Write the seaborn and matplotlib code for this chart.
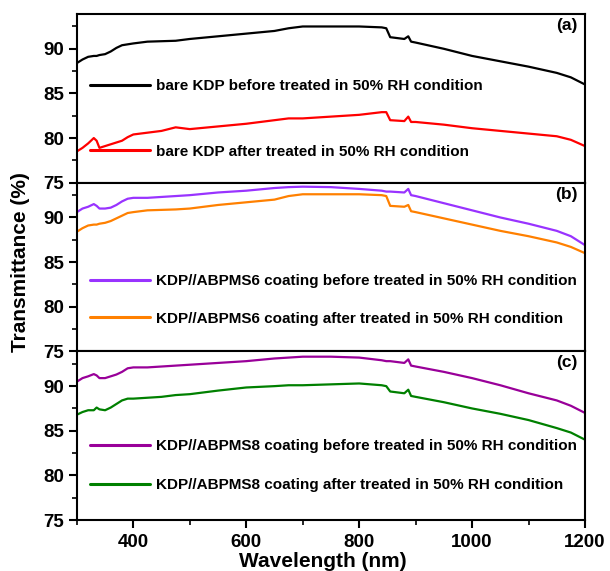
import numpy as np
import pandas as pd
import matplotlib
matplotlib.use("Agg")
import matplotlib.pyplot as plt
from matplotlib.ticker import MultipleLocator
import seaborn as sns

# Wavelength grid (nm) shared by all spectra
wavelength = [300, 310, 320, 330, 335, 340, 350, 360, 370, 380, 390, 400, 425, 450,
              475, 500, 550, 600, 650, 675, 700, 750, 800, 840, 848, 855, 880, 887,
              892, 900, 950, 1000, 1050, 1100, 1150, 1175, 1200]

# (a) bare KDP
bare_before = [88.4, 88.8, 89.1, 89.2, 89.2, 89.3, 89.4, 89.7, 90.1, 90.4, 90.5, 90.6, 90.8, 90.85,
               90.9, 91.1, 91.4, 91.7, 92.0, 92.3, 92.5, 92.5, 92.5, 92.4, 92.3, 91.3, 91.1, 91.4,
               90.8, 90.7, 90.0, 89.2, 88.6, 88.0, 87.3, 86.8, 86.0]
bare_after = [78.5, 78.9, 79.4, 80.0, 79.7, 78.9, 79.1, 79.3, 79.5, 79.7, 80.1, 80.4, 80.6, 80.8,
              81.2, 81.0, 81.3, 81.6, 82.0, 82.2, 82.2, 82.4, 82.6, 82.9, 82.9, 82.0, 81.9, 82.4,
              81.8, 81.8, 81.5, 81.1, 80.8, 80.5, 80.2, 79.8, 79.1]

# (b) KDP//ABPMS6 coating
ms6_before = [90.6, 91.0, 91.2, 91.5, 91.3, 91.0, 91.0, 91.1, 91.4, 91.8, 92.1, 92.2, 92.2, 92.3,
              92.4, 92.5, 92.8, 93.0, 93.3, 93.4, 93.45, 93.4, 93.2, 93.0, 92.9, 92.9, 92.8, 93.2,
              92.5, 92.4, 91.6, 90.8, 90.0, 89.3, 88.5, 87.9, 86.9]
ms6_after = [88.4, 88.8, 89.1, 89.2, 89.2, 89.3, 89.4, 89.6, 89.9, 90.2, 90.5, 90.6, 90.8, 90.85,
             90.9, 91.0, 91.4, 91.7, 92.0, 92.4, 92.6, 92.6, 92.6, 92.5, 92.4, 91.3, 91.2, 91.4,
             90.7, 90.6, 89.9, 89.2, 88.5, 87.9, 87.2, 86.7, 86.0]

# (c) KDP//ABPMS8 coating
ms8_before = [90.5, 90.9, 91.1, 91.35, 91.2, 90.9, 90.9, 91.1, 91.3, 91.6, 92.0, 92.1, 92.1, 92.2,
              92.3, 92.4, 92.6, 92.8, 93.1, 93.2, 93.3, 93.3, 93.2, 92.9, 92.8, 92.8, 92.6, 93.0,
              92.3, 92.2, 91.6, 90.9, 90.1, 89.2, 88.4, 87.8, 87.0]
ms8_after = [86.8, 87.1, 87.3, 87.3, 87.6, 87.4, 87.3, 87.6, 88.0, 88.4, 88.6, 88.6, 88.7, 88.8,
             89.0, 89.1, 89.5, 89.85, 90.0, 90.1, 90.1, 90.2, 90.3, 90.1, 90.0, 89.4, 89.2, 89.6,
             88.9, 88.8, 88.2, 87.5, 86.9, 86.2, 85.3, 84.8, 84.0]

labels = [
    ["bare KDP before treated in 50% RH condition",
     "bare KDP after treated in 50% RH condition"],
    ["KDP//ABPMS6 coating before treated in 50% RH condition",
     "KDP//ABPMS6 coating after treated in 50% RH condition"],
    ["KDP//ABPMS8 coating before treated in 50% RH condition",
     "KDP//ABPMS8 coating after treated in 50% RH condition"],
]
series = [(bare_before, bare_after), (ms6_before, ms6_after), (ms8_before, ms8_after)]
colors = [("#000000", "#FF0000"), ("#9933FF", "#FF8000"), ("#990099", "#008000")]
panel_tags = ["(a)", "(b)", "(c)"]

y_ticks = [75, 80, 85, 90]
x_ticks = [400, 600, 800, 1000, 1200]

sns.set_theme(style="ticks")
plt.rcParams["font.family"] = ["Liberation Sans", "DejaVu Sans"]
plt.rcParams["font.weight"] = "bold"
plt.rcParams["text.color"] = "black"
plt.rcParams["axes.labelcolor"] = "black"
plt.rcParams["xtick.color"] = "black"
plt.rcParams["ytick.color"] = "black"

fig = plt.figure(figsize=(6.10, 5.71), dpi=100)
gs = fig.add_gridspec(3, 1, left=0.126, right=0.959, top=0.9755, bottom=0.0893, hspace=0)
axes = [fig.add_subplot(gs[i]) for i in range(3)]
for ax in axes[1:]:
    ax.sharex(axes[0])

legend_layout = [  # (top of legend in axes fraction, label spacing)
    (0.6146, 3.38),
    (0.4587, 1.545),
    (0.4805, 1.656),
]

for i, ax in enumerate(axes):
    before, after = series[i]
    df = pd.DataFrame({
        "Wavelength": wavelength * 2,
        "T": before + after,
        "Sample": [labels[i][0]] * len(wavelength) + [labels[i][1]] * len(wavelength),
    })
    sns.lineplot(data=df, x="Wavelength", y="T", hue="Sample",
                 palette=dict(zip(labels[i], colors[i])), linewidth=1.6,
                 ax=ax, legend=True)
    handles, labs = ax.get_legend_handles_labels()
    top, spacing = legend_layout[i]
    leg = ax.legend(handles, labs, loc="upper left", bbox_to_anchor=(0.0256, top),
                    frameon=False, borderpad=0, borderaxespad=0,
                    handlelength=3.93, handletextpad=0.4, labelspacing=spacing,
                    prop={"size": 11, "weight": "bold"})
    for line in leg.get_lines():
        line.set_linewidth(2.2)
    for t in leg.get_texts():
        t.set_color("black")

    ax.set_xlim(300, 1200)
    ax.set_ylim(75, 93.9)
    ax.set_yticks(y_ticks)
    ax.yaxis.set_minor_locator(MultipleLocator(2.5))
    ax.set_xticks(x_ticks)
    ax.xaxis.set_minor_locator(MultipleLocator(100))
    ax.set_xlabel("")
    ax.set_ylabel("")
    for sp in ax.spines.values():
        sp.set_visible(True)
        sp.set_linewidth(1.5)
        sp.set_color("black")
    ax.tick_params(axis="y", which="major", direction="out", length=6, width=1.5,
                   labelsize=13.5, pad=3, colors="black", right=False)
    ax.tick_params(axis="y", which="minor", direction="out", length=3.5, width=1.2,
                   right=False)
    if i < 2:
        ax.tick_params(axis="x", which="both", bottom=False, labelbottom=False)
    else:
        ax.tick_params(axis="x", which="major", direction="out", length=6, width=1.5,
                       labelsize=13.5, pad=4, colors="black")
        ax.tick_params(axis="x", which="minor", direction="out", length=3.5, width=1.2)
    for t in ax.get_xticklabels() + ax.get_yticklabels():
        t.set_fontweight("bold")
    ax.text(0.986, 0.976, panel_tags[i], transform=ax.transAxes, ha="right", va="top",
            fontsize=12.5, fontweight="bold")

fig.text(0.033, 1 - 262 / 571, "Transmittance (%)", rotation=90, ha="center", va="center",
         fontsize=15, fontweight="bold")
fig.text(323 / 610, 1 - 561.5 / 571, "Wavelength (nm)", ha="center", va="center",
         fontsize=15, fontweight="bold")

fig.savefig("out.png", dpi=100)
